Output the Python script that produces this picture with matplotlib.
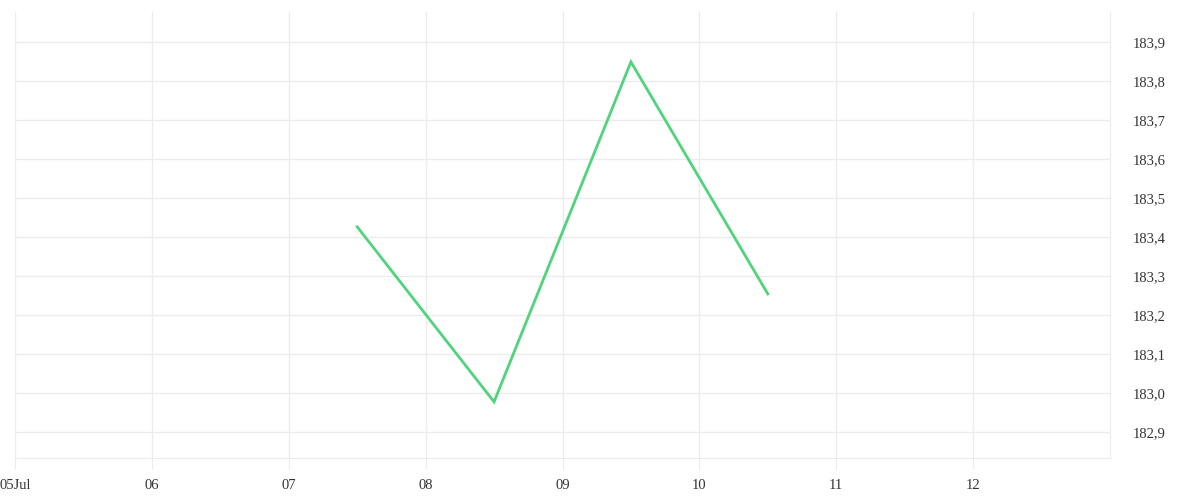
import matplotlib
matplotlib.use("Agg")
import matplotlib.pyplot as plt
import matplotlib.dates as mdates
from matplotlib.ticker import FuncFormatter, FixedLocator
import datetime as dt

dates = ["2023-07-07 12:00", "2023-07-08 12:00", "2023-07-09 12:00", "2023-07-10 12:00"]
values = [183.426, 182.977, 183.849, 183.254]
tick_days = ["2023-07-05", "2023-07-06", "2023-07-07", "2023-07-08",
             "2023-07-09", "2023-07-10", "2023-07-11", "2023-07-12"]
tick_labels = ["05Jul", "06", "07", "08", "09", "10", "11", "12"]
y_ticks = [182.9, 183.0, 183.1, 183.2, 183.3, 183.4, 183.5, 183.6, 183.7, 183.8, 183.9]

plt.rcParams['font.family'] = ['Liberation Serif', 'DejaVu Serif']

fig = plt.figure(figsize=(12, 5), dpi=100)
ax = fig.add_axes([15/1200, 42/500, (1110-15)/1200, (458-12)/500])

x = [mdates.date2num(dt.datetime.strptime(d, "%Y-%m-%d %H:%M")) for d in dates]
ax.plot(x, values, color="#4fd47c", lw=2.0, solid_joinstyle="miter")

xt = [mdates.date2num(dt.datetime.strptime(d, "%Y-%m-%d")) for d in tick_days]
ax.set_xlim(xt[0], xt[0] + 8)
ax.set_ylim(182.833, 183.977)
ax.xaxis.set_major_locator(FixedLocator(xt))
ax.set_xticklabels(tick_labels)
ax.yaxis.set_major_locator(FixedLocator(y_ticks))
ax.yaxis.set_major_formatter(FuncFormatter(lambda v, p: f"{v:.1f}".replace(".", ",")))
ax.yaxis.tick_right()

grid_c = "#ececec"
ax.grid(True, color=grid_c, lw=1)
ax.set_axisbelow(True)
for s in ["top", "left"]:
    ax.spines[s].set_visible(False)
ax.spines["bottom"].set_color(grid_c)
ax.spines["right"].set_color(grid_c)
ax.tick_params(axis="x", length=8, color=grid_c, labelsize=10.5, labelcolor="#333333", pad=7)
ax.tick_params(axis="y", length=0, labelsize=10.5, labelcolor="#333333", pad=16)
for lbl in ax.get_yticklabels():
    lbl.set_horizontalalignment("left")

fig.savefig("out.png", dpi=100, facecolor="white")
